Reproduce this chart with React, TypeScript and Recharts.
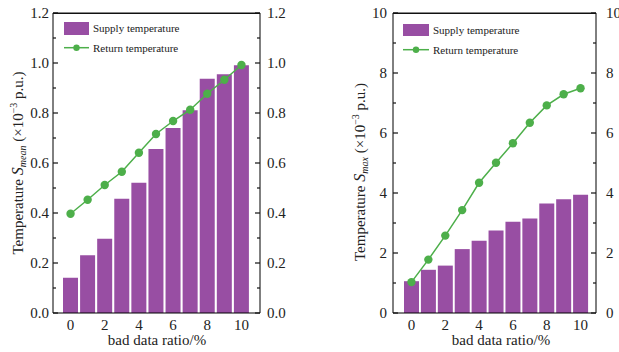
import React from 'react';
import { ComposedChart, Bar, Line, XAxis, YAxis, CartesianGrid } from 'recharts';

// bad data ratio (%)
const ratios = [0, 1, 2, 3, 4, 5, 6, 7, 8, 9, 10];

// s_mean panel (x10^-3 p.u.)
const meanSupply = [0.141, 0.231, 0.297, 0.457, 0.521, 0.656, 0.74, 0.811, 0.937, 0.955, 0.991];
const meanReturn = [0.397, 0.453, 0.512, 0.565, 0.641, 0.716, 0.768, 0.813, 0.877, 0.933, 0.992];

// s_max panel (x10^-3 p.u.)
const maxSupply = [1.06, 1.44, 1.58, 2.13, 2.41, 2.75, 3.04, 3.15, 3.65, 3.79, 3.94];
const maxReturn = [1.03, 1.78, 2.58, 3.43, 4.34, 5.01, 5.66, 6.34, 6.92, 7.29, 7.49];

const meanTicks = [0, 0.1, 0.2, 0.3, 0.4, 0.5, 0.6, 0.7, 0.8, 0.9, 1.0, 1.1, 1.2];
const meanMajor = [0, 0.2, 0.4, 0.6, 0.8, 1.0, 1.2];
const maxTicks = [0, 1, 2, 3, 4, 5, 6, 7, 8, 9, 10];
const maxMajor = [0, 2, 4, 6, 8, 10];

const PURPLE = '#984ea3';
const GREEN = '#4daf4a';
const FONT = 'Liberation Serif, Times New Roman, serif';

const meanData = ratios.map((r, i) => ({ ratio: r, supply: meanSupply[i], ret: meanReturn[i] }));
const maxData = ratios.map((r, i) => ({ ratio: r, supply: maxSupply[i], ret: maxReturn[i] }));

const txt = { fontFamily: FONT, fill: '#222' };

const YTick = (props: any) => {
  const { x, y, payload, side, major, fmt, gap } = props;
  const isMajor = major.some((m: number) => Math.abs(m - payload.value) < 1e-6);
  const len = isMajor ? 5 : 3;
  const dir = side === 'left' ? 1 : -1;
  return (
    <g>
      <line x1={x} x2={x + dir * len} y1={y} y2={y} stroke="#111" strokeWidth={1.2} />
      {isMajor && (
        <text
          x={x - dir * gap}
          y={y}
          dy="0.35em"
          textAnchor={side === 'left' ? 'end' : 'start'}
          style={{ ...txt, fontSize: 15 }}
        >
          {fmt(payload.value)}
        </text>
      )}
    </g>
  );
};

const XTick = (props: any) => {
  const { x, y, payload } = props;
  return (
    <text x={x} y={y + 17} textAnchor="middle" style={{ ...txt, fontSize: 15 }}>
      {payload.value}
    </text>
  );
};

const YTitle = ({ tx, ty, sub }: any) => (
  <text
    x={tx}
    y={ty}
    transform={`rotate(-90 ${tx} ${ty})`}
    textAnchor="middle"
    style={{ ...txt, fontSize: 15 }}
  >
    Temperature{' '}
    <tspan style={{ fontStyle: 'italic', fontSize: 16 }}>S</tspan>
    <tspan style={{ fontStyle: 'italic', fontSize: 10 }} dy={3}>{sub}</tspan>
    <tspan dy={-3}> (×10</tspan>
    <tspan style={{ fontSize: 10 }} dy={-6}>−3</tspan>
    <tspan dy={6}> p.u.)</tspan>
  </text>
);

const XTitle = ({ tx, ty }: any) => (
  <text x={tx} y={ty} textAnchor="middle" style={{ ...txt, fontSize: 15 }}>
    bad data ratio/%
  </text>
);

const LegendBox = ({ left, top, w, h }: any) => (
  <div style={{ position: 'absolute', left, top }}>
    <svg width={160} height={34}>
      <rect x={0} y={0} width={w} height={h} fill={PURPLE} />
      <text x={w + 4} y={h / 2} dy="0.35em" style={{ ...txt, fontSize: 11 }}>
        Supply temperature
      </text>
      <line x1={0} x2={w} y1={25.7} y2={25.7} stroke={GREEN} strokeWidth={1.5} />
      <circle cx={w / 2} cy={25.7} r={3.2} fill={GREEN} />
      <text x={w + 4} y={25.7} dy="0.35em" style={{ ...txt, fontSize: 11 }}>
        Return temperature
      </text>
    </svg>
  </div>
);

const Panel = (p: any) => (
  <div style={{ position: 'absolute', left: p.left, top: 0, width: p.width, height: 352 }}>
    <ComposedChart width={p.width} height={352} data={p.data} margin={{ top: 13, right: 0, left: 0, bottom: 0 }}>
      <CartesianGrid
        yAxisId="left"
        vertical={false}
        horizontalValues={[p.yMax]}
        stroke="#111"
        strokeWidth={1}
      />
      <XAxis
        dataKey="ratio"
        type="category"
        interval={1}
        height={39}
        padding={p.padding}
        axisLine={{ stroke: '#000' }}
        tickLine={false}
        tickSize={0}
        tickMargin={0}
        tick={<XTick />}
        label={<XTitle tx={p.xTitleX} ty={345} />}
      />
      <YAxis
        yAxisId="left"
        type="number"
        domain={[0, p.yMax]}
        ticks={p.ticks}
        interval={0}
        width={p.leftW}
        axisLine={{ stroke: '#000' }}
        tickLine={false}
        tickSize={0}
        tickMargin={0}
        tick={(t: any) => <YTick {...t} side="left" major={p.major} fmt={p.fmt} gap={p.gapL} />}
        label={<YTitle tx={p.yTitleX} ty={p.yTitleY} sub={p.sub} />}
      />
      <YAxis
        yAxisId="right"
        orientation="right"
        type="number"
        domain={[0, p.yMax]}
        ticks={p.ticks}
        interval={0}
        width={p.rightW}
        axisLine={{ stroke: '#000' }}
        tickLine={false}
        tickSize={0}
        tickMargin={0}
        tick={(t: any) => <YTick {...t} side="right" major={p.major} fmt={p.fmt} gap={p.gapR} />}
      />
      <Bar yAxisId="right" dataKey="supply" fill={PURPLE} barSize={15} isAnimationActive={false} />
      <Line
        yAxisId="left"
        dataKey="ret"
        stroke={GREEN}
        strokeWidth={1.5}
        dot={{ r: 4.2, fill: GREEN, stroke: 'none' }}
        activeDot={false}
        isAnimationActive={false}
      />
    </ComposedChart>
    {/* top frame of the plot box */}
    <div
      style={{
        position: 'absolute',
        left: p.leftW,
        top: 13,
        width: p.width - p.leftW - p.rightW,
        height: 0,
        borderTop: '1px solid #111',
      }}
    />
    <LegendBox left={p.legendX} top={p.legendY} w={p.legendW} h={p.legendH} />
  </div>
);

export default function App() {
  return (
    <div style={{ position: 'absolute', left: 0, top: 0, width: 619, height: 352, background: '#fff', overflow: 'hidden', fontFamily: FONT }}>
      <Panel
        left={0}
        width={310}
        data={meanData}
        yMax={1.2}
        ticks={meanTicks}
        major={meanMajor}
        fmt={(v: number) => v.toFixed(1)}
        leftW={53}
        rightW={50}
        gapL={4}
        gapR={7}
        padding={{ left: 9, right: 10 }}
        sub="mean"
        yTitleX={23}
        yTitleY={163}
        xTitleX={157}
        legendX={64}
        legendY={22}
        legendW={25}
        legendH={13}
      />
      <Panel
        left={310}
        width={309}
        data={maxData}
        yMax={10}
        ticks={maxTicks}
        major={maxMajor}
        fmt={(v: number) => String(v)}
        leftW={83}
        rightW={23}
        gapL={6}
        gapR={10}
        padding={{ left: 10, right: 7 }}
        sub="max"
        yTitleX={55}
        yTitleY={172}
        xTitleX={191}
        legendX={93}
        legendY={24}
        legendW={26}
        legendH={12}
      />
    </div>
  );
}
